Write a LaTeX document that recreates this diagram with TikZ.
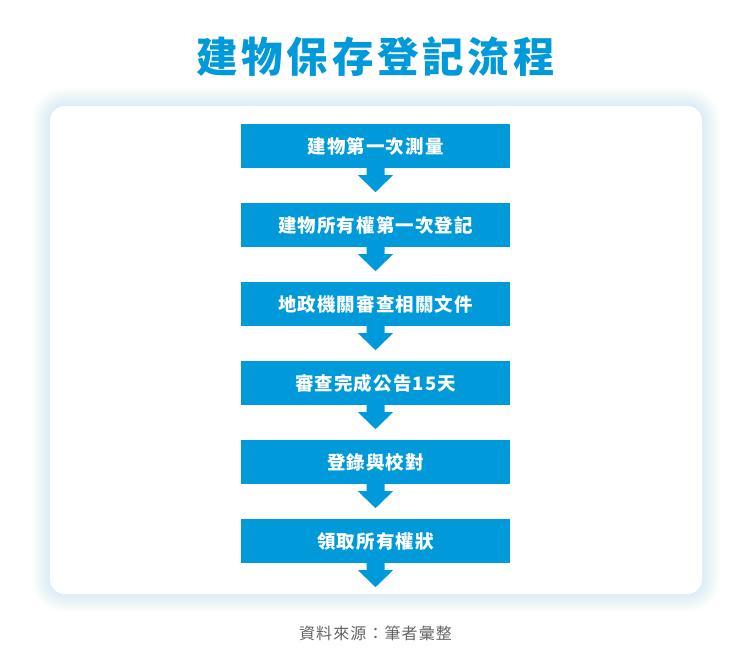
\documentclass[tikz,border=0pt]{standalone}
\usepackage{fontspec}
\newfontfamily\cjk{Noto Sans CJK TC}
\definecolor{boxblue}{RGB}{0,154,218}
\definecolor{glowblue}{RGB}{200,228,247}
\definecolor{srcgray}{RGB}{100,100,100}
\begin{document}
\begin{tikzpicture}[x=1pt,y=-1pt,
  stepbox/.style={fill=boxblue,minimum width=269pt,minimum height=44pt,inner sep=0pt,
    text=white,font={\cjk\bfseries\fontsize{18.5}{20}\selectfont\addfontfeature{LetterSpace=6}}},
  arrowfill/.style={fill=boxblue,draw=none}]
\useasboundingbox (0,0) rectangle (750,655);
\fill[white] (0,0) rectangle (750,655);
% glow
\foreach \i in {1,...,18}{
  \fill[glowblue,opacity=0.035,rounded corners={(15+\i)*1pt}] (50-\i,106-\i) rectangle (702+\i,594+\i);
}
\fill[white,rounded corners=15pt] (50,106) rectangle (702,594);
% title
\node[text=boxblue,inner sep=0pt,font={\cjk\bfseries\fontsize{41.5}{44}\selectfont\addfontfeature{LetterSpace=9}}] (title) at (375.5,57) {建物保存登記流程};
% boxes
\node[stepbox] (b1) at (375.5,146) {建物第一次測量};
\node[stepbox] (b2) at (375.5,225) {建物所有權第一次登記};
\node[stepbox] (b3) at (375.5,304) {地政機關審查相關文件};
\node[stepbox] (b4) at (375.5,383) {審查完成公告15天};
\node[stepbox] (b5) at (375.5,462) {登錄與校對};
\node[stepbox] (b6) at (375.5,541) {領取所有權狀};
% arrows
\foreach \n in {b1,b2,b3,b4,b5,b6}{
  \fill[arrowfill] (\n.south) ++(-9,-0.5) -- ++(0,7.5) -- ++(-8.5,0) -- ++(17.5,17) -- ++(17.5,-17) -- ++(-8.5,0) -- ++(0,-7.5) -- cycle;
}
% source
\node[text=srcgray,inner sep=0pt,font={\cjk\fontsize{16}{18}\selectfont\addfontfeature{LetterSpace=7}}] (src) at (375.5,633) {資料來源：筆者彙整};
\end{tikzpicture}
\end{document}
